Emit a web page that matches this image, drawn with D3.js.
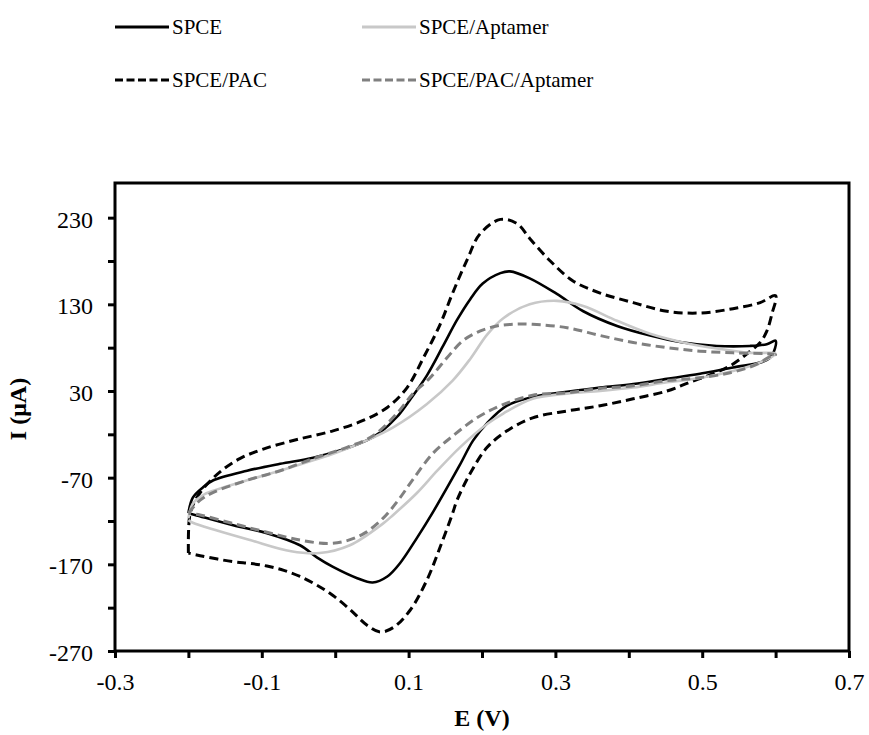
<!DOCTYPE html>
<html>
<head>
<meta charset="utf-8">
<script src="https://cdn.jsdelivr.net/npm/d3@7"></script>
<style>
  body { margin: 0; background: #fff; }
  svg text { font-family: "Liberation Serif", "Times New Roman", serif; fill: #000; }
</style>
</head>
<body>
<svg id="cv" width="869" height="735"></svg>
<script>
// potential (V) and current (uA) for each scan, forward then reverse
var spceE = [-0.200, -0.194, -0.180, -0.166, -0.120, -0.075, -0.030, 0.016, 0.043, 0.061, 0.084, 0.102, 0.125, 0.147, 0.166, 0.184, 0.201, 0.225, 0.238, 0.265, 0.302, 0.338, 0.384, 0.429, 0.474, 0.520, 0.565, 0.588, 0.600,
             0.592, 0.542, 0.497, 0.452, 0.406, 0.361, 0.316, 0.269, 0.234, 0.207, 0.188, 0.170, 0.152, 0.133, 0.111, 0.088, 0.071, 0.051, 0.030, -0.003, -0.025, -0.048, -0.093, -0.139, -0.191, -0.200];
var spceI = [-111, -93, -81, -73, -62, -54, -47, -36, -27, -18, 0, 20, 48, 82, 112, 136, 154, 166, 168, 160, 142, 122, 105, 94, 86, 82, 82, 84, 88,
             68, 57, 50, 44, 38, 34, 29, 23, 13, -7, -27, -55, -82, -110, -140, -169, -184, -191, -186, -173, -162, -148, -134, -125, -113, -111];

var pacE = [-0.200, -0.198, -0.190, -0.175, -0.155, -0.130, -0.098, -0.052, -0.003, 0.038, 0.071, 0.098, 0.120, 0.143, 0.160, 0.180, 0.197, 0.225, 0.248, 0.265, 0.293, 0.324, 0.361, 0.406, 0.452, 0.497, 0.542, 0.579, 0.600,
            0.595, 0.588, 0.579, 0.561, 0.538, 0.515, 0.483, 0.452, 0.406, 0.361, 0.316, 0.269, 0.234, 0.207, 0.184, 0.166, 0.160, 0.143, 0.125, 0.102, 0.079, 0.061, 0.043, 0.020, -0.003, -0.025, -0.048, -0.070, -0.093, -0.115, -0.139, -0.184, -0.200];
var pacI = [-157, -113, -95, -78, -62, -48, -37, -26, -16, -4, 11, 34, 68, 107, 143, 182, 211, 228, 223, 206, 180, 157, 143, 132, 122, 120, 125, 132, 140,
            119, 99, 86, 73, 59, 50, 40, 30, 21, 13, 7, -1, -16, -35, -65, -96, -111, -150, -188, -223, -243, -248, -240, -222, -206, -194, -184, -177, -172, -169, -167, -160, -157];

var aptE = [-0.200, -0.194, -0.180, -0.166, -0.120, -0.075, -0.030, 0.002, 0.043, 0.079, 0.125, 0.160, 0.184, 0.207, 0.229, 0.265, 0.302, 0.338, 0.384, 0.429, 0.474, 0.520, 0.565, 0.600,
            0.579, 0.542, 0.497, 0.452, 0.406, 0.361, 0.316, 0.269, 0.229, 0.207, 0.170, 0.139, 0.111, 0.079, 0.065, 0.020, -0.021, -0.060, -0.116, -0.161, -0.194, -0.200];
var aptI = [-117, -100, -90, -85, -73, -62, -50, -41, -27, -12, 15, 42, 67, 95, 114, 130, 134, 128, 111, 96, 86, 79, 74, 73,
            63, 53, 45, 40, 34, 30, 27, 21, 4, -8, -35, -62, -88, -113, -123, -148, -157, -155, -142, -131, -122, -119];

var pacAptE = [-0.200, -0.184, -0.166, -0.120, -0.075, -0.030, 0.016, 0.051, 0.084, 0.106, 0.129, 0.152, 0.174, 0.197, 0.220, 0.242, 0.269, 0.316, 0.361, 0.406, 0.452, 0.497, 0.542, 0.588, 0.600,
               0.595, 0.575, 0.538, 0.493, 0.452, 0.406, 0.361, 0.316, 0.269, 0.225, 0.193, 0.160, 0.133, 0.106, 0.085, 0.065, 0.040, 0.015, -0.010, -0.048, -0.093, -0.139, -0.184, -0.200];
var pacAptI = [-111, -96, -87, -73, -62, -48, -35, -22, 4, 27, 45, 68, 88, 99, 105, 107, 107, 103, 94, 86, 80, 76, 74, 73, 72,
               71, 61, 51, 45, 42, 36, 33, 28, 25, 13, -1, -22, -42, -72, -97, -117, -134, -143, -146, -142, -133, -123, -113, -111];

var seriesNames = ["SPCE", "SPCE/PAC", "SPCE/Aptamer", "SPCE/PAC/Aptamer"];
var xTicks = [-0.3, -0.2, -0.1, 0, 0.1, 0.2, 0.3, 0.4, 0.5, 0.6, 0.7];
var xLabels = ["-0.3", "-0.1", "0.1", "0.3", "0.5", "0.7"];
var yTicks = [230, 180, 130, 80, 30, -20, -70, -120, -170, -220, -270];
var yLabels = ["230", "130", "30", "-70", "-170", "-270"];

var svg = d3.select("#cv");
var margin = {top: 183, right: 20, bottom: 84, left: 115};
var width = +svg.attr("width") - margin.left - margin.right;
var height = +svg.attr("height") - margin.top - margin.bottom;

var x = d3.scaleLinear().domain([-0.3, 0.7]).range([0, width]);
var y = d3.scaleLinear().domain([-270, 270]).range([height, 0]);

var g = svg.append("g").attr("transform", "translate(" + margin.left + "," + margin.top + ")");

var styles = [
    {color: "#000000", dash: null, w: 2.6},
    {color: "#000000", dash: "9,5", w: 3},
    {color: "#c8c8c8", dash: null, w: 2.6},
    {color: "#808080", dash: "9,5", w: 3}
];
var series = [
    d3.zip(spceE, spceI),
    d3.zip(pacE, pacI),
    d3.zip(aptE, aptI),
    d3.zip(pacAptE, pacAptI)
];

var line = d3.line()
        .x(function (d) { return x(d[0]); })
        .y(function (d) { return y(d[1]); })
        .curve(d3.curveCatmullRom.alpha(0.5));

// axes
var xAxis = g.append("g")
        .attr("transform", "translate(0," + height + ")")
        .call(d3.axisBottom(x).tickValues(xTicks).tickSize(7).tickFormat(function (d) {
            var s = d.toFixed(1);
            return xLabels.indexOf(s) >= 0 ? s : "";
        }));
var yAxis = g.append("g")
        .call(d3.axisLeft(y).tickValues(yTicks).tickSize(7).tickFormat(function (d) {
            return yLabels.indexOf(String(d)) >= 0 ? String(d) : "";
        }));

[xAxis, yAxis].forEach(function (a) {
    a.attr("font-family", null);
    a.select(".domain").remove();
    a.selectAll(".tick line").attr("stroke", "#000").attr("stroke-width", 3);
    a.selectAll(".tick text").style("font-size", "24px");
});
xAxis.selectAll(".tick text").attr("dy", "1.2em");
yAxis.selectAll(".tick text").attr("x", -22).attr("dy", "0.4em");

g.selectAll("path.cv")
    .data(series)
    .enter()
    .append("path")
    .attr("class", "cv")
    .attr("fill", "none")
    .attr("stroke", function (d, i) { return styles[i].color; })
    .attr("stroke-width", function (d, i) { return styles[i].w; })
    .attr("stroke-dasharray", function (d, i) { return styles[i].dash; })
    .attr("stroke-linejoin", "round")
    .attr("d", line);

g.append("rect")
    .attr("width", width)
    .attr("height", height)
    .attr("fill", "none")
    .attr("stroke", "#000")
    .attr("stroke-width", 3);

// axis titles
svg.append("text")
    .attr("x", margin.left + width / 2)
    .attr("y", 726)
    .attr("text-anchor", "middle")
    .style("font-size", "24px")
    .style("font-weight", "bold")
    .text("E (V)");

svg.append("text")
    .attr("transform", "translate(26,409) rotate(-90)")
    .attr("text-anchor", "middle")
    .style("font-size", "24px")
    .style("font-weight", "bold")
    .text("I (μA)");

// legend
var legPos = [[115, 27], [115, 80], [362, 27], [362, 80]];
var leg = svg.selectAll("g.leg")
        .data(seriesNames)
        .enter()
        .append("g")
        .attr("class", "leg")
        .attr("transform", function (d, i) { return "translate(" + legPos[i][0] + "," + legPos[i][1] + ")"; });
leg.append("line")
    .attr("x1", 0).attr("x2", 54)
    .attr("stroke", function (d, i) { return styles[i].color; })
    .attr("stroke-width", 3)
    .attr("stroke-dasharray", function (d, i) { return styles[i].dash ? "8,3.5" : null; });
leg.append("text")
    .attr("x", 57)
    .attr("dy", "0.35em")
    .style("font-size", "21px")
    .text(function (d) { return d; });
</script>
</body>
</html>
